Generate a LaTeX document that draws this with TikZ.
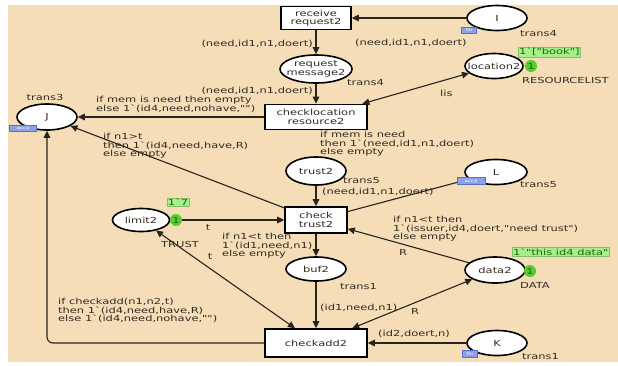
\documentclass[tikz,border=0pt]{standalone}
\usepackage{fontspec}
\newfontfamily\cpn[FakeStretch=1.38]{DejaVu Sans}
\usetikzlibrary{arrows.meta,shapes.geometric}
\definecolor{bgc}{RGB}{244,221,183}
\definecolor{txt}{RGB}{50,42,34}
\definecolor{arcc}{RGB}{40,35,30}
\definecolor{glf}{RGB}{165,240,135}
\definecolor{glt}{RGB}{35,100,20}
\definecolor{tokc}{RGB}{85,205,45}
\definecolor{tagf}{RGB}{140,160,232}
\definecolor{tagd}{RGB}{90,110,205}
\pgfdeclarelayer{back}
\pgfdeclarelayer{arcs}
\pgfdeclarelayer{labs}
\pgfsetlayers{back,arcs,labs,main}
\newcommand\cpnf{\cpn\fontsize{8.3}{8.5}\selectfont}
\tikzset{
  place/.style={ellipse, draw=black, line width=1.6pt, fill=white, inner sep=0pt,
    minimum width=60pt, minimum height=25pt},
  ptext/.style={font=\cpnf, text=txt, inner sep=0pt, align=center},
  trans/.style={rectangle, draw=black, line width=1.6pt, fill=white, inner sep=0pt,
    align=center, font=\cpnf, text=txt},
  arc/.style={draw=arcc, line width=1.1pt, -{Triangle[length=7pt,width=6.5pt]}},
  dbl/.style={draw=arcc, line width=1.1pt, {Triangle[length=7pt,width=6.5pt]}-{Triangle[length=7pt,width=6.5pt]}},
  lbl/.style={font=\cpnf, text=txt, inner sep=0pt, align=left},
  greenlbl/.style={font=\cpnf, text=glt, fill=glf, draw=glf!80!black, line width=0.3pt, inner sep=1pt},
  token/.style={circle, fill=tokc, minimum size=12pt, inner sep=0pt, font=\cpnf, text=glt},
  fusiontag/.style={rectangle, fill=tagf, draw=tagd, line width=0.4pt, inner sep=0pt,
    font=\cpn\fontsize{4}{4}\selectfont, text=white}
}
\begin{document}
\begin{tikzpicture}[x=1pt,y=-1pt]
\useasboundingbox (0,0) rectangle (618,365);
\begin{pgfonlayer}{back}
\fill[bgc] (8,5) rectangle (618,362);
\end{pgfonlayer}

% nodes
\node[trans, minimum width=70pt, minimum height=23pt] (rr) at (316,18) {receive\\request2};
\node[place] (I) at (497,18) {};
\node[ptext] at (I) {I};
\node[place, minimum width=72pt, minimum height=28pt] (rm) at (316,69) {};
\node[ptext] at (rm) {request\\message2};
\node[place, minimum width=58pt] (loc) at (494,66) {};
\node[ptext] at (loc) {location2};
\node[trans, minimum width=102pt, minimum height=25pt] (cl) at (316,117) {checklocation\\resource2};
\node[place, minimum height=26pt] (J) at (47,117) {};
\node[ptext] at (J) {J};
\node[place, minimum height=28pt] (tr) at (316,171) {};
\node[ptext] at (tr) {trust2};
\node[place, minimum width=62pt] (L) at (496,172) {};
\node[ptext] at (L) {L};
\node[trans, minimum width=62pt, minimum height=26pt] (ct) at (316,220) {check\\trust2};
\node[place, minimum width=57pt, minimum height=23pt] (lim) at (141,220) {};
\node[ptext] at (lim) {limit2};
\node[place, minimum height=24pt] (buf) at (316,269) {};
\node[ptext] at (buf) {buf2};
\node[place, minimum height=26pt] (data) at (495,270) {};
\node[ptext] at (data) {data2};
\node[trans, minimum width=102pt, minimum height=28pt] (ca) at (316,343) {checkadd2};
\node[place] (K) at (497,343) {};
\node[ptext] at (K) {K};

% tokens and markings
\node[token] (t1) at (531,66) {1};
\node[token] (t2) at (176,220) {1};
\node[token] (t3) at (530,271) {1};
\node[greenlbl, anchor=west] (g1) at (518,52) {1`["book"]};
\node[greenlbl] (g2) at (178,202) {1`7};
\node[greenlbl, anchor=west] (g3) at (512,252) {1`"this id4 data"};

% fusion tags
\node[fusiontag, minimum width=15pt, minimum height=6pt] (fI) at (469,30) {fin};
\node[fusiontag, minimum width=27pt, minimum height=6pt] (fJ) at (23,128) {acc4};
\node[fusiontag, minimum width=28pt, minimum height=7pt] (fL) at (471,181) {acc4};
\node[fusiontag, minimum width=15pt, minimum height=7pt] (fK) at (470,354) {fin};

% arcs
\begin{pgfonlayer}{arcs}
\draw[arc] (I) -- (rr);
\draw[arc] (rr) -- (rm);
\draw[arc] (rm) -- (cl);
\draw[dbl] (cl) -- (loc);
\draw[arc] (cl) -- (J);
\draw[arc] (ct) -- (J);
\draw[arc] (lim) -- (ct);
\draw[dbl] (lim) -- (ca);
\draw[arc] (tr) -- (ct);
\draw[arc] (ct) -- (L);
\draw[arc] (data) -- (ct);
\draw[arc] (ct) -- (buf);
\draw[arc] (buf) -- (ca);
\draw[dbl] (ca) -- (data);
\draw[arc] (K) -- (ca);
\draw[arc, rounded corners=6pt] (ca.west) -| (J.south);
\end{pgfonlayer}

% labels
\begin{pgfonlayer}{labs}
\node[lbl, anchor=east] (a1) at (313,44) {(need,id1,n1,doert)};
\node[lbl, anchor=west] (a2) at (355,43) {(need,id1,n1,doert)};
\node[lbl, anchor=west] (a3) at (520,34) {trans4};
\node[lbl, anchor=west] (a4) at (347,83) {trans4};
\node[lbl, anchor=east] (a5) at (313,91) {(need,id1,n1,doert)};
\node[lbl, anchor=west] (a6) at (522,80) {RESOURCELIST};
\node[lbl, anchor=west] (a7) at (440,93) {lis};
\node[lbl] (a8) at (45,97) {trans3};
\node[lbl, anchor=north west] (a9) at (96,96) {if mem is need then empty\\else 1`(id4,need,nohave,"")};
\node[lbl, anchor=north west] (a10) at (103,133) {if n1>t\\then 1`(id4,need,have,R)\\else empty};
\node[lbl, anchor=north west] (a11) at (320,131) {if mem is need\\then 1`(need,id1,n1,doert)\\else empty};
\node[lbl, anchor=west] (a12) at (343,181) {trans5};
\node[lbl, anchor=west] (a13) at (322,192) {(need,id1,n1,doert)};
\node[lbl, anchor=west] (a14) at (520,185) {trans5};
\node[lbl, anchor=north west] (a15) at (393,216) {if n1<t then\\1`(issuer,id4,doert,"need trust")\\else empty};
\node[lbl] (a16) at (403,252) {R};
\node[lbl] (a17) at (208,228) {t};
\node[lbl] (a18) at (180,244) {TRUST};
\node[lbl, anchor=north west] (a19) at (222,233) {if n1<t then\\1`(id1,need,n1)\\else empty};
\node[lbl] (a20) at (210,257) {t};
\node[lbl, anchor=west] (a21) at (340,287) {trans1};
\node[lbl, anchor=west] (a22) at (520,285) {DATA};
\node[lbl, anchor=west] (a23) at (320,308) {(id1,need,n1)};
\node[lbl] (a24) at (415,311) {R};
\node[lbl, anchor=north west] (a25) at (58,298) {if checkadd(n1,n2,t)\\then 1`(id4,need,have,R)\\else 1`(id4,need,nohave,"")};
\node[lbl, anchor=west] (a26) at (378,334) {(id2,doert,n)};
\node[lbl, anchor=west] (a27) at (522,357) {trans1};
\end{pgfonlayer}
\end{tikzpicture}
\end{document}
